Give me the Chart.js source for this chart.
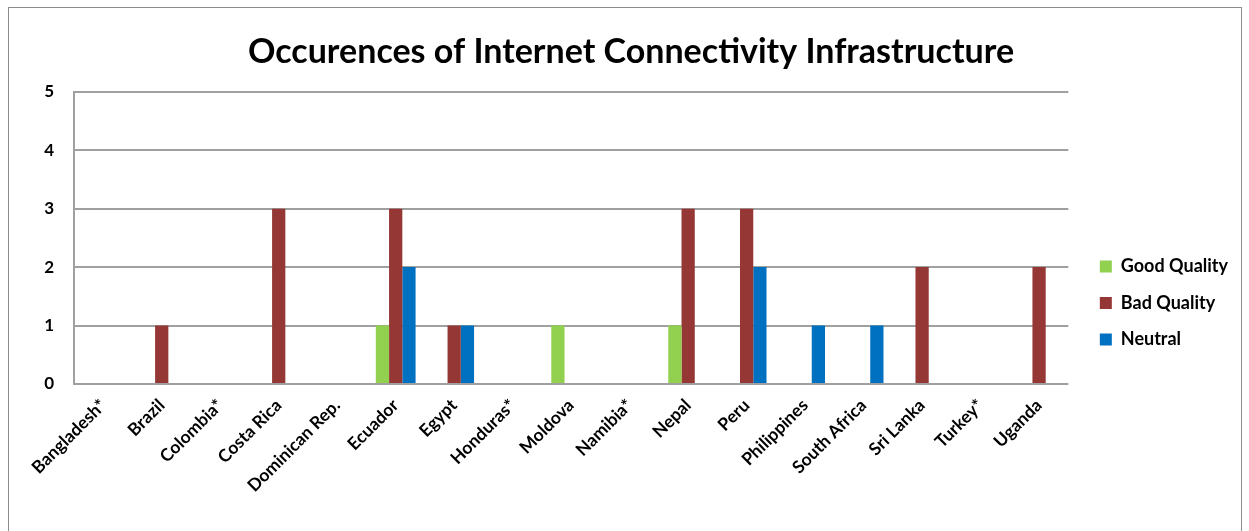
<!DOCTYPE html>
<html>
<head>
<meta charset="utf-8">
<script src="https://cdn.jsdelivr.net/npm/chart.js@4.4.0/dist/chart.umd.min.js"></script>
<style>
  html, body { margin: 0; padding: 0; background: #fff; }
  #box { position: absolute; left: 8px; top: 7px; width: 1234px; height: 530px; border: 1px solid #8c8c8c; box-sizing: border-box; }
  #wrap { position: absolute; left: 0; top: 0; width: 1232px; height: 528px; }
</style>
</head>
<body>
<div id="box"><div id="wrap"><canvas id="c"></canvas></div></div>
<script>
// categories and series
const countries = ['Bangladesh*', 'Brazil', 'Colombia*', 'Costa Rica', 'Dominican Rep.', 'Ecuador', 'Egypt',
  'Honduras*', 'Moldova', 'Namibia*', 'Nepal', 'Peru', 'Philippines', 'South Africa', 'Sri Lanka', 'Turkey*', 'Uganda'];
const goodQuality = [0, 0, 0, 0, 0, 1, 0, 0, 1, 0, 1, 0, 0, 0, 0, 0, 0];
const badQuality  = [0, 1, 0, 3, 0, 3, 1, 0, 0, 0, 3, 3, 0, 0, 2, 0, 2];
const neutral     = [0, 0, 0, 0, 0, 2, 1, 0, 0, 0, 0, 2, 1, 1, 0, 0, 0];
const yTicks = [0, 1, 2, 3, 4, 5];

const FONT = 'Lato, "Open Sans", sans-serif';

// nudge legend and title to where the reference has them
const nudge = {
  id: 'nudge',
  afterLayout(chart) {
    const lg = chart.legend;
    if (lg) {
      lg.top += 31; lg.bottom += 31;
      lg.left += 13; lg.right += 13;
    }
    const t = chart.titleBlock;
    if (t) { t.left += 14; t.right += 14; }
  }
};

new Chart(document.getElementById('c'), {
  type: 'bar',
  data: {
    labels: countries,
    datasets: [
      { label: 'Good Quality', data: goodQuality, backgroundColor: '#92d050' },
      { label: 'Bad Quality', data: badQuality, backgroundColor: '#953735' },
      { label: 'Neutral', data: neutral, backgroundColor: '#0070c0' }
    ]
  },
  plugins: [nudge],
  options: {
    responsive: true,
    maintainAspectRatio: false,
    animation: false,
    layout: { padding: { left: 0, right: 16, top: 0, bottom: 0 } },
    datasets: { bar: { categoryPercentage: 0.68, barPercentage: 1.0 } },
    plugins: {
      title: {
        display: true,
        text: 'Occurences of Internet Connectivity Infrastructure',
        color: '#000',
        font: { family: FONT, size: 34, weight: 'bold' },
        padding: { top: 24, bottom: 19 }
      },
      legend: {
        position: 'right',
        labels: {
          color: '#000',
          font: { family: FONT, size: 18, weight: 'bold' },
          boxWidth: 12,
          boxHeight: 12,
          padding: 18.5
        }
      },
      tooltip: { enabled: false }
    },
    scales: {
      x: {
        grid: { display: false },
        border: { display: false },
        ticks: {
          color: '#000',
          maxRotation: 45,
          minRotation: 45,
          autoSkip: false,
          font: { family: FONT, size: 17.5, weight: 'bold' }
        },
        afterFit: function (s) { s.height = 152; }
      },
      y: {
        min: 0,
        max: 5,
        afterBuildTicks: function (s) { s.ticks = yTicks.map(v => ({ value: v })); },
        grid: { color: '#a0a0a0', lineWidth: 2, drawTicks: false },
        border: { display: true, color: '#a0a0a0', width: 2 },
        ticks: {
          color: '#000',
          padding: 20,
          font: { family: FONT, size: 17, weight: 'bold' }
        },
        afterFit: function (s) { s.width = 65; }
      }
    }
  }
});
</script>
</body>
</html>
